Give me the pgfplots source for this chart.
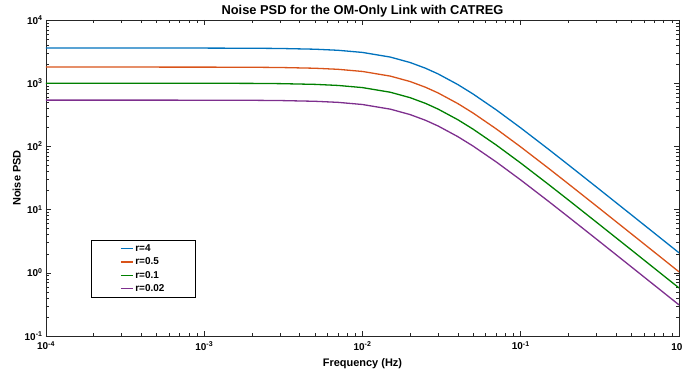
\documentclass[border=0pt]{standalone}
\usepackage{fontspec}
\setmainfont{Liberation Sans}
\usepackage{pgfplots}
\pgfplotsset{compat=1.18}
\usepackage{pgfplotstable}
\definecolor{mblue}{rgb}{0,0.447,0.741}
\definecolor{morange}{rgb}{0.85,0.325,0.098}
\definecolor{mgreen}{rgb}{0,0.5,0}
\definecolor{mpurple}{rgb}{0.494,0.184,0.556}
\definecolor{axgray}{rgb}{0.15,0.15,0.15}
\pgfplotstableread{
f      a      b      c      d
1e-4   3600   1800   1000   540
1e-3   3593.8 1796.9 998.3  539.1
2e-3   3575.2 1787.6 993.1  536.3
3e-3   3544.6 1772.3 984.6  531.7
5e-3   3450.2 1725.1 958.4  517.5
7e-3   3317.8 1658.9 921.6  497.7
1e-2   3067.5 1533.7 852.1  460.1
1.5e-2 2588.8 1294.4 719.1  388.3
2e-2   2124.6 1062.3 590.2  318.7
2.5e-2 1726.5 863.3  479.6  259.0
3e-2   1404.9 702.4  390.2  210.7
4e-2   952.96 476.5  264.7  142.9
5e-2   674.1  337.1  187.3  101.1
7e-2   378.7  189.3  105.2  56.80
1e-1   196.06 98.03  54.46  29.41
1.5e-1 89.86  44.93  24.96  13.48
2e-1   51.11  25.55  14.20  7.666
3e-1   22.89  11.45  6.359  3.434
5e-1   8.275  4.138  2.299  1.241
7e-1   4.227  2.114  1.174  0.6341
1      2.072  1.036  0.5757 0.3109
}\psd
\begin{document}
\begin{tikzpicture}
\begin{axis}[
  scale only axis,
  width=633bp, height=316bp,
  xmode=log, ymode=log,
  xmin=1e-4, xmax=1, ymin=0.1, ymax=1e4,
  xtick={1e-4,1e-3,1e-2,1e-1,1},
  xticklabels={10\textsuperscript{-4},10\textsuperscript{-3},10\textsuperscript{-2},10\textsuperscript{-1},10\textsuperscript{0}},
  ytick={1e-1,1,10,100,1000,1e4},
  yticklabels={10\textsuperscript{-1},10\textsuperscript{0},10\textsuperscript{1},10\textsuperscript{2},10\textsuperscript{3},10\textsuperscript{4}},
  tick label style={font=\bfseries\fontsize{10}{12}\selectfont},
  xticklabel style={yshift=-2bp},
  axis line style={axgray, line width=0.6bp},
  tick style={axgray, line width=0.5bp},
  major tick length=5.5bp, minor tick length=3bp,
  title={\bfseries Noise PSD for the OM-Only Link with CATREG},
  title style={font=\fontsize{12.9}{14}\selectfont, yshift=-7bp},
  xlabel={\bfseries Frequency (Hz)},
  ylabel={\bfseries Noise PSD},
  label style={font=\fontsize{11}{13}\selectfont},
  xlabel style={yshift=-2bp},
  ylabel style={yshift=-3bp},
  legend cell align=left,
  legend style={at={(0.071,0.123)}, anchor=south west, draw=black,
    font=\bfseries\normalsize, inner xsep=29bp, row sep=1bp},
  legend image code/.code={\draw[#1] (0cm,0cm) -- (0.42cm,0cm);},
]
\coordinate (bl) at (rel axis cs:0,0);
\addplot[mblue, line width=1.3bp] table[x=f,y=a] {\psd};
\addlegendentry{{r=4}}
\addplot[morange, line width=1.3bp] table[x=f,y=b] {\psd};
\addlegendentry{{r=0.5}}
\addplot[mgreen, line width=1.3bp] table[x=f,y=c] {\psd};
\addlegendentry{{r=0.1}}
\addplot[mpurple, line width=1.3bp] table[x=f,y=d] {\psd};
\addlegendentry{{r=0.02}}
\end{axis}
\pgfresetboundingbox
\path (bl) ++(-46bp,-43bp) rectangle ++(682bp,379bp);
\end{tikzpicture}
\end{document}
